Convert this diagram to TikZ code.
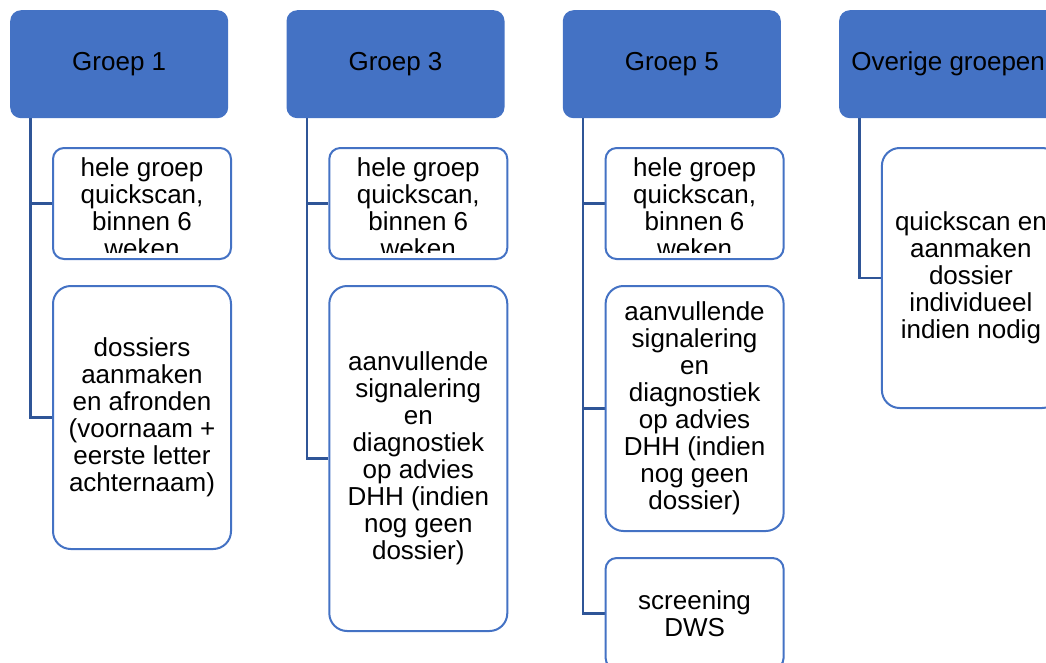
\documentclass[tikz,border=0pt]{standalone}
\usepackage{fontspec}
\setmainfont{Liberation Sans}
\usetikzlibrary{calc,backgrounds}
\definecolor{hdrblue}{HTML}{4472C4}
\definecolor{boxblue}{HTML}{4472C4}
\definecolor{linkblue}{HTML}{2F5597}
\begin{document}
\begin{tikzpicture}[x=1pt,y=-1pt,
  txt/.style={font=\fontsize{26}{27}\selectfont, align=center, inner sep=0pt},
  hdr/.style={txt, rectangle, rounded corners=10.8pt, fill=hdrblue, draw=none,
    minimum width=218pt, minimum height=108pt, anchor=north west},
  childbox/.style={txt, rectangle, draw=boxblue, line width=2pt, fill=white,
    minimum width=178pt, anchor=north west},
  smallbox/.style={childbox, minimum height=111pt, rounded corners=11pt},
  tallbox/.style={childbox, rounded corners=17.8pt},
  conn/.style={draw=linkblue, line width=2.3pt}]
\useasboundingbox (0,0) rectangle (1046,662);
\clip (0,0) rectangle (1046,662);

% headers
\node[hdr] (h1) at (10,10) {Groep 1};
\node[hdr] (h3) at (286.3,10) {Groep 3};
\node[hdr] (h5) at (562.6,10) {Groep 5};
\node[hdr] (ho) at (838.9,10) {Overige groepen};

% spine coordinates
\coordinate (v1) at ($(h1.south west)+(20.5,0)$);
\coordinate (v3) at ($(h3.south west)+(20.5,0)$);
\coordinate (v5) at ($(h5.south west)+(20.5,0)$);
\coordinate (vo) at ($(ho.south west)+(20.5,0)$);

% child boxes
\node[smallbox] (c11) at (52,147) {};
\node[tallbox, minimum height=263pt] (c12) at (52,285) {dossiers\\aanmaken\\en afronden\\(voornaam +\\eerste letter\\achternaam)};
\node[smallbox] (c31) at (328.3,147) {};
\node[tallbox, minimum height=345pt] (c32) at (328.3,285) {aanvullende\\signalering\\en\\diagnostiek\\op advies\\DHH (indien\\nog geen\\dossier)};
\node[smallbox] (c51) at (604.6,147) {};
\node[tallbox, minimum height=245pt] (c52) at (604.6,285) {aanvullende\\signalering\\en\\diagnostiek\\op advies\\DHH (indien\\nog geen\\dossier)};
\node[smallbox] (c53) at (604.6,557) {screening\\DWS};
\node[tallbox, minimum height=260pt] (co1) at (880.9,147) {quickscan en\\aanmaken\\dossier\\individueel\\indien nodig};

% clipped text in the small boxes
\begin{scope}
  \clip ($(c11.north west)+(2,2)$) rectangle ($(c11.north east)+(-2,105)$);
  \node[txt, anchor=north] (t11) at ($(c11.north)+(0,10)$) {hele groep\\quickscan,\\binnen 6\\weken};
\end{scope}
\begin{scope}
  \clip ($(c31.north west)+(2,2)$) rectangle ($(c31.north east)+(-2,105)$);
  \node[txt, anchor=north] (t31) at ($(c31.north)+(0,10)$) {hele groep\\quickscan,\\binnen 6\\weken};
\end{scope}
\begin{scope}
  \clip ($(c51.north west)+(2,2)$) rectangle ($(c51.north east)+(-2,105)$);
  \node[txt, anchor=north] (t51) at ($(c51.north)+(0,10)$) {hele groep\\quickscan,\\binnen 6\\weken};
\end{scope}

% connectors behind the boxes
\begin{scope}[on background layer]
\draw[conn] (v1) |- (c11.west);
\draw[conn] (v1) |- (c12.west);
\draw[conn] (v3) |- (c31.west);
\draw[conn] (v3) |- (c32.west);
\draw[conn] (v5) |- (c51.west);
\draw[conn] (v5) |- (c52.west);
\draw[conn] (v5) |- (c53.west);
\draw[conn] (vo) |- (co1.west);
\end{scope}
\end{tikzpicture}
\end{document}
